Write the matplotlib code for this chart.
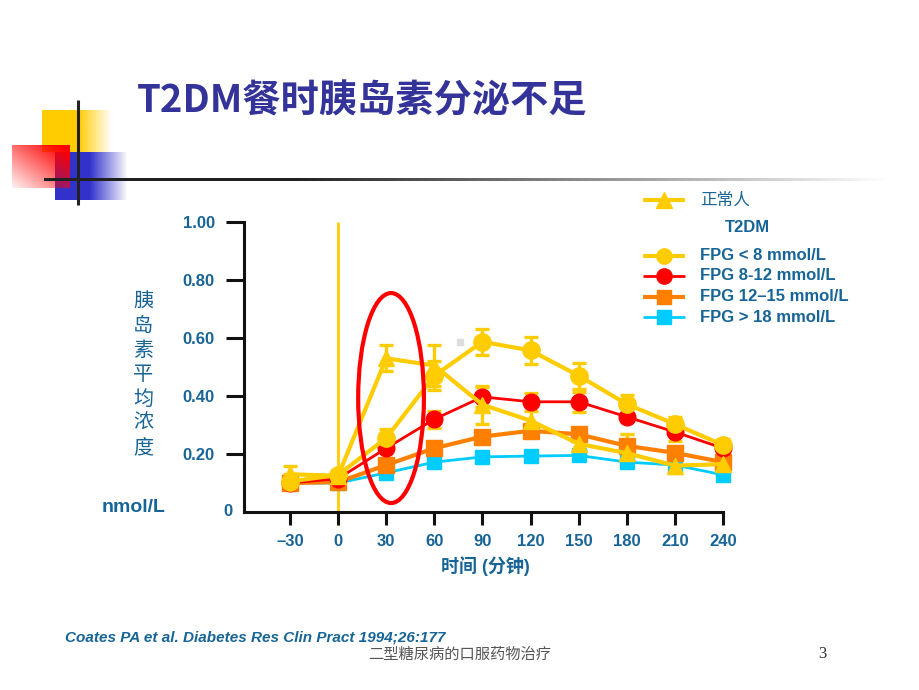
import numpy as np
import matplotlib
matplotlib.use('Agg')
import matplotlib.pyplot as plt
from matplotlib.patches import Ellipse, Rectangle

# ---------------- data ----------------
time = [-30, 0, 30, 60, 90, 120, 150, 180, 210, 240]
xtick_labels = ['–30', '0', '30', '60', '90', '120', '150', '180', '210', '240']
ytick_values = [0.2, 0.4, 0.6, 0.8, 1.0]
ytick_labels = ['0.20', '0.40', '0.60', '0.80', '1.00']

normal = [0.13, 0.125, 0.53, 0.505, 0.37, 0.315, 0.235, 0.203, 0.160, 0.165]
normal_err = [0.03, 0.015, 0.045, 0.07, 0.065, 0.05, 0.05, 0.035, 0.025, 0.02]
fpg_lt8 = [0.105, 0.128, 0.255, 0.47, 0.587, 0.557, 0.470, 0.372, 0.303, 0.231]
fpg_lt8_err = [0.025, 0.015, 0.03, 0.05, 0.045, 0.045, 0.045, 0.03, 0.025, 0.02]
fpg_8_12 = [0.100, 0.115, 0.220, 0.320, 0.397, 0.380, 0.380, 0.328, 0.276, 0.220]
fpg_8_12_err = [0.0, 0.0, 0.0, 0.03, 0.035, 0.03, 0.035, 0.0, 0.03, 0.0]
fpg_12_15 = [0.100, 0.103, 0.162, 0.220, 0.260, 0.280, 0.268, 0.228, 0.204, 0.172]
fpg_12_15_err = [0.0, 0.0, 0.0, 0.0, 0.0, 0.0, 0.0, 0.04, 0.0, 0.0]
fpg_gt18 = [0.100, 0.100, 0.135, 0.172, 0.190, 0.193, 0.195, 0.172, 0.162, 0.128]
fpg_gt18_err = [0.0, 0.0, 0.0, 0.0, 0.015, 0.015, 0.015, 0.0, 0.015, 0.015]

legend_labels = ['正常人', 'T2DM', 'FPG < 8 mmol/L', 'FPG 8-12 mmol/L',
                 'FPG 12–15 mmol/L', 'FPG > 18 mmol/L']
title = 'T2DM餐时胰岛素分泌不足'
ylabel_chars = '胰岛素平均浓度'
xlabel = '时间 (分钟)'
citation = 'Coates PA et al. Diabetes Res Clin Pract 1994;26:177'
footer = '二型糖尿病的口服药物治疗'
page = '3'

# ---------------- style ----------------
YEL = '#FFCC00'
RED = '#FF0000'
ORG = '#FF7F00'
CYA = '#00CCFF'
TXT = '#176496'
TITLE_C = '#333399'
LAT = ['Liberation Sans', 'Noto Sans CJK SC', 'DejaVu Sans']
CJK = ['Noto Sans CJK SC', 'DejaVu Sans']

W, H = 920, 690
fig = plt.figure(figsize=(9.2, 6.9), dpi=100)
fig.patch.set_facecolor('white')

# decoration overlay in pixel coordinates
deco = fig.add_axes([0, 0, 1, 1], zorder=0)
deco.set_xlim(0, W)
deco.set_ylim(H, 0)
deco.axis('off')


def rgba(color):
    return np.array(matplotlib.colors.to_rgb(color))


def grad_img(x0, x1, y0, y1, color, alpha_fn, n=200):
    xs = np.linspace(x0, x1, n)
    ys = np.linspace(y0, y1, n)
    X, Y = np.meshgrid(xs, ys)
    A = np.clip(alpha_fn(X, Y), 0, 1)
    img = np.zeros((n, n, 4))
    img[..., :3] = rgba(color)
    img[..., 3] = A
    deco.imshow(img, extent=(x0, x1, y1, y0), aspect='auto',
                interpolation='bilinear', zorder=1)


# yellow block
grad_img(42, 112, 110, 152, YEL,
         lambda X, Y: np.where(X < 78, 1.0, 1 - (X - 78) / 34))
# blue block
grad_img(55, 128, 152, 200, '#3333CC',
         lambda X, Y: np.where(X < 90, 1.0, 1 - (X - 90) / 38))
# red block (gradient towards lower-left)
grad_img(12, 70, 145, 188, RED,
         lambda X, Y: 0.05 + 0.95 * (0.55 * (X - 12) / 58 + 0.55 * (188 - Y) / 43))
# dark lines
deco.plot([78, 78], [100, 205], color='#222222', lw=2.2, zorder=3,
          solid_capstyle='butt')
xs = np.linspace(44, 905, 400)
shade = np.clip((xs - 294) / (890 - 294), 0, 1)
strip = np.zeros((1, len(xs), 3))
c0 = np.array([0.13, 0.13, 0.13])
strip[0] = c0[None, :] * (1 - shade[:, None]) + shade[:, None] * 1.0
deco.imshow(strip, extent=(44, 905, 181.5, 178.5), aspect='auto',
            interpolation='bilinear', zorder=3)
deco.set_xlim(0, W)
deco.set_ylim(H, 0)

# tiny gray speck
deco.add_patch(Rectangle((457, 339), 6, 6, color='#DDDDDD', zorder=2))

# title
fig.text(137 / W, 1 - 101 / H, title, family=CJK, fontsize=27.5, fontweight='bold',
         color=TITLE_C, ha='left', va='center')

# ---------------- main chart ----------------
ax = fig.add_axes([244 / W, 1 - 512 / H, (723 - 244) / W, (512 - 222) / H], zorder=2)
ax.patch.set_visible(False)
ax.set_xlim(-58.7, 240)
ax.set_ylim(0, 1.0)
for s in ['top', 'right']:
    ax.spines[s].set_visible(False)
for s in ['left', 'bottom']:
    ax.spines[s].set_linewidth(2.2)
    ax.spines[s].set_color('#111111')

ax.set_xticks(time)
ax.set_xticklabels(xtick_labels)
ax.set_yticks(ytick_values)
ax.set_yticklabels(ytick_labels)
ax.tick_params(axis='x', direction='out', length=9.5, width=2.2, color='#111111',
               pad=6, labelsize=12, labelcolor=TXT)
ax.tick_params(axis='y', direction='out', length=13, width=2.2, color='#111111',
               pad=8, labelsize=12, labelcolor=TXT)
for lab in ax.get_xticklabels() + ax.get_yticklabels():
    lab.set_fontweight('bold')
    lab.set_family(LAT)

# zero line (meal time)
ax.vlines(0, -0.045, 1.0, color=YEL, lw=2.0, clip_on=False, zorder=1)

# error bars
eb_kw = dict(fmt='none', ecolor=YEL, elinewidth=2.4, capsize=5, capthick=2.4, zorder=2)
for vals, err in [(fpg_gt18, fpg_gt18_err), (fpg_12_15, fpg_12_15_err),
                  (fpg_8_12, fpg_8_12_err), (normal, normal_err),
                  (fpg_lt8, fpg_lt8_err)]:
    e = np.array(err)
    m = e > 0
    if m.any():
        cont = ax.errorbar(np.array(time)[m], np.array(vals)[m], yerr=e[m], **eb_kw)
        for art in cont.get_children():
            art.set_clip_on(False)

ax.plot(time, fpg_gt18, color=CYA, lw=2.0, marker='s', ms=10.5, mec=CYA, zorder=3,
        clip_on=False)
ax.plot(time, fpg_12_15, color=ORG, lw=3.0, marker='s', ms=11, mec=ORG, zorder=4,
        clip_on=False)
ax.plot(time, fpg_8_12, color=RED, lw=2.0, marker='o', ms=12, mec=RED, zorder=5,
        clip_on=False)
ax.plot(time, normal, color=YEL, lw=3.0, marker='^', ms=11, mec=YEL, zorder=6,
        clip_on=False)
ax.plot(time, fpg_lt8, color=YEL, lw=3.0, marker='o', ms=12.5, mec=YEL, zorder=7,
        clip_on=False)

# highlight ellipse around 30 min
ax.add_patch(Ellipse((33, 0.393), 41, 0.724, fill=False, ec=RED, lw=3.0,
                     clip_on=False, zorder=8))

# axis labels
fig.text(228 / W, 1 - 512 / H, '0', family=LAT, fontsize=12, fontweight='bold',
         color=TXT, ha='center', va='center')
fig.text(134 / W, 1 - 508 / H, 'nmol/L', family=LAT, fontsize=14, fontweight='bold',
         color=TXT, ha='center', va='center')
for i, ch in enumerate(ylabel_chars):
    fig.text(143 / W, 1 - (302 + i * 24.3) / H, ch, family=CJK, fontsize=14.5,
             color=TXT, ha='center', va='center')
fig.text(485 / W, 1 - 566 / H, xlabel, family=LAT, fontsize=13, fontweight='bold',
         color=TXT, ha='center', va='center')

# ---------------- legend ----------------
leg_rows = [
    (200, YEL, '^', 11, 3.0, legend_labels[0], 'cjk'),
    (228, None, None, 0, 0, legend_labels[1], 'head'),
    (256, YEL, 'o', 11, 3.0, legend_labels[2], 'lat'),
    (276, RED, 'o', 11, 2.0, legend_labels[3], 'lat'),
    (297, ORG, 's', 9.5, 3.0, legend_labels[4], 'lat'),
    (317, CYA, 's', 9.5, 2.0, legend_labels[5], 'lat'),
]
for y, col, mk, ms, lw, lab, kind in leg_rows:
    if col is not None:
        deco.plot([643, 685], [y, y], color=col, lw=lw, zorder=4,
                  solid_capstyle='butt')
        deco.plot([664], [y], marker=mk, ms=ms, color=col, mec=col, zorder=5)
    if kind == 'cjk':
        fig.text(700 / W, 1 - y / H, lab, family=CJK, fontsize=12, color=TXT,
                 ha='left', va='center')
    elif kind == 'head':
        fig.text(725 / W, 1 - y / H, lab, family=LAT, fontsize=12,
                 fontweight='bold', color=TXT, ha='left', va='center')
    else:
        fig.text(700 / W, 1 - y / H, lab, family=LAT, fontsize=12,
                 fontweight='bold', color=TXT, ha='left', va='center')

# ---------------- footer ----------------
fig.text(65 / W, 1 - 638 / H, citation, family=LAT, fontsize=11, fontweight='bold',
         style='italic', color=TXT, ha='left', va='center')
fig.text(460 / W, 1 - 654 / H, footer, family=CJK, fontsize=11, color='#555555',
         ha='center', va='center', fontweight='light')
fig.text(822 / W, 1 - 654 / H, page, family=['Liberation Serif', 'DejaVu Serif'],
         fontsize=12, color='#333333', ha='center', va='center')

fig.savefig('out.png', dpi=100, facecolor='white')
